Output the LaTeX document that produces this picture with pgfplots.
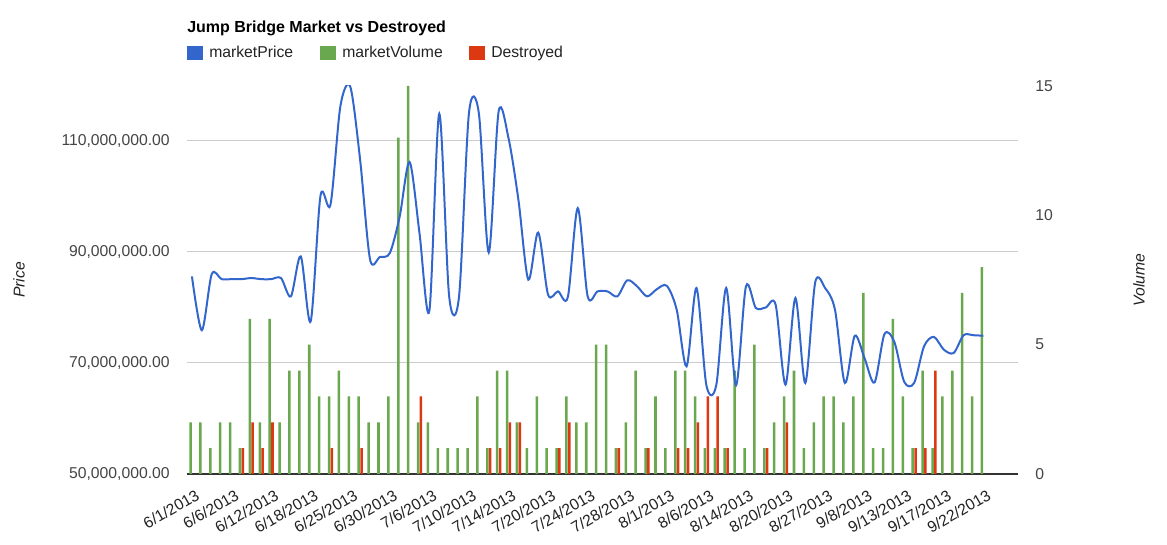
\documentclass[border=0pt]{standalone}
\usepackage{fontspec}
\setmainfont{Liberation Sans}
\usepackage{pgfplots}
\pgfplotsset{compat=1.18}
\definecolor{gblue}{HTML}{3366CC}
\definecolor{ggreen}{HTML}{6AA84F}
\definecolor{gred}{HTML}{DC3912}
\definecolor{gridc}{HTML}{CCCCCC}
\definecolor{txt}{HTML}{444444}
\definecolor{txtd}{HTML}{222222}
\definecolor{c333}{HTML}{333333}
\begin{document}
\begin{tikzpicture}
\path[use as bounding box] (0,0) rectangle (875.25pt,408.75pt);
\pgfplotsset{common/.style={scale only axis, width=623.25pt, height=291pt,
  at={(140.25pt,53.25pt)}, anchor=south west, xmin=-0.5, xmax=83.5,
  scaled y ticks=false, scaled x ticks=false,
  /pgf/number format/assume math mode=true,
  tick label style={font=\fontsize{11.8pt}{14pt}\selectfont},
  major tick length=0pt}}
% frame axis: price grid, ticks, dates
\begin{axis}[common, ymin=50e6, ymax=119.9e6,
  axis x line*=bottom, axis y line*=left,
  y axis line style={draw=none},
  x axis line style={draw=c333, line width=1.2pt},
  ytick={50e6,70e6,90e6,110e6},
  yticklabels={{50,000,000.00},{70,000,000.00},{90,000,000.00},{110,000,000.00}},
  ymajorgrids, grid style={gridc, line width=0.75pt},
  yticklabel style={anchor=east, inner sep=0pt, xshift=-12.75pt, text=txt},
  xtick={0,4,...,80},
  xticklabels={6/1/2013,6/6/2013,6/12/2013,6/18/2013,6/25/2013,6/30/2013,7/6/2013,7/10/2013,7/14/2013,7/20/2013,7/24/2013,7/28/2013,8/1/2013,8/6/2013,8/14/2013,8/20/2013,8/27/2013,9/8/2013,9/13/2013,9/17/2013,9/22/2013},
  xticklabel style={rotate=30, anchor=north east, inner sep=0pt, xshift=-3.5pt, yshift=-10.5pt, text=txtd},
  ylabel={\itshape Price},
  ylabel style={at={(axis description cs:-0.2022,0.5)}, anchor=center, font=\fontsize{11.8pt}{14pt}\selectfont, text=txtd}]
\addplot[draw=none] coordinates {(0,60e6)};
\end{axis}
% volume axis: bars
\begin{axis}[common, ymin=0, ymax=15,
  axis x line=none, axis y line*=right,
  y axis line style={draw=none},
  ytick={0,5,10,15}, yticklabels={0,5,10,15},
  yticklabel style={anchor=west, inner sep=0pt, xshift=12.75pt, text=txt},
  ylabel={\itshape Volume},
  ylabel style={at={(axis description cs:1.1456,0.5)}, anchor=center, font=\fontsize{11.8pt}{14pt}\selectfont, text=txtd}]
\addplot[ybar, bar width=1.9pt, bar shift=-1.05pt, fill=ggreen, draw=none] coordinates {
(0,2) (1,2) (2,1) (3,2) (4,2) (5,1) (6,6) (7,2) (8,6) (9,2) (10,4) (11,4) (12,5) (13,3) (14,3) (15,4) (16,3) (17,3) (18,2) (19,2) (20,3) (21,13) (22,15) (23,2) (24,2) (25,1) (26,1) (27,1) (28,1) (29,3) (30,1) (31,4) (32,4) (33,2) (34,1) (35,3) (36,1) (37,1) (38,3) (39,2) (40,2) (41,5) (42,5) (43,1) (44,2) (45,4) (46,1) (47,3) (48,1) (49,4) (50,4) (51,3) (52,1) (53,1) (54,1) (55,4) (56,1) (57,5) (58,1) (59,2) (60,3) (61,4) (62,1) (63,2) (64,3) (65,3) (66,2) (67,3) (68,7) (69,1) (70,1) (71,6) (72,3) (73,1) (74,4) (75,1) (76,3) (77,4) (78,7) (79,3) (80,8)};
\addplot[ybar, bar width=1.9pt, bar shift=1.05pt, fill=gred, draw=none] coordinates {
(5,1) (6,2) (7,1) (8,2) (14,1) (17,1) (23,3) (30,1) (31,1) (32,2) (33,2) (37,1) (38,2) (43,1) (46,1) (49,1) (50,1) (51,2) (52,3) (53,3) (54,1) (58,1) (60,2) (73,1) (74,1) (75,4)};
\end{axis}
% price line
\begin{axis}[common, ymin=50e6, ymax=119.9e6, hide axis]
\addplot[gblue, line width=1.5pt, smooth, no markers] coordinates {
(0,85600000) (1,75900000) (2,86000000) (3,85100000) (4,85100000) (5,85100000) (6,85300000) (7,85100000) (8,85100000) (9,85300000) (10,82000000) (11,89200000) (12,77500000) (13,100200000) (14,98500000) (15,116200000) (16,119800000) (17,106600000) (18,88700000) (19,89100000) (20,89800000) (21,96400000) (22,106200000) (23,93400000) (24,79400000) (25,114900000) (26,82000000) (27,82000000) (28,115000000) (29,115000000) (30,89900000) (31,115300000) (32,110500000) (33,99400000) (34,85000000) (35,93500000) (36,82300000) (37,82900000) (38,81900000) (39,97900000) (40,82000000) (41,82900000) (42,82900000) (43,82000000) (44,84900000) (45,83800000) (46,82000000) (47,83300000) (48,83900000) (49,79600000) (50,69400000) (51,83500000) (52,66000000) (53,66000000) (54,83500000) (55,66000000) (56,83800000) (57,79900000) (58,80000000) (59,80500000) (60,66100000) (61,81700000) (62,66400000) (63,84500000) (64,83500000) (65,79600000) (66,66400000) (67,74900000) (68,70800000) (69,66500000) (70,75200000) (71,73800000) (72,66600000) (73,66400000) (74,73000000) (75,74700000) (76,72400000) (77,71800000) (78,75000000) (79,75000000) (80,74900000)};
\end{axis}
% title and legend
\node[anchor=base west, inner sep=0pt, font=\fontsize{12pt}{14pt}\selectfont\bfseries] at (140.25pt,384.5pt) {Jump Bridge Market vs Destroyed};
\fill[gblue] (140.25pt,363.75pt) rectangle (152.25pt,374.25pt);
\node[anchor=base west, inner sep=0pt, text=txtd, font=\fontsize{11.8pt}{14pt}\selectfont] at (156.75pt,365.5pt) {marketPrice};
\fill[ggreen] (240pt,363.75pt) rectangle (252pt,374.25pt);
\node[anchor=base west, inner sep=0pt, text=txtd, font=\fontsize{11.8pt}{14pt}\selectfont] at (256.5pt,365.5pt) {marketVolume};
\fill[gred] (351.75pt,363.75pt) rectangle (363.75pt,374.25pt);
\node[anchor=base west, inner sep=0pt, text=txtd, font=\fontsize{11.8pt}{14pt}\selectfont] at (368.25pt,365.5pt) {Destroyed};
\end{tikzpicture}
\end{document}
